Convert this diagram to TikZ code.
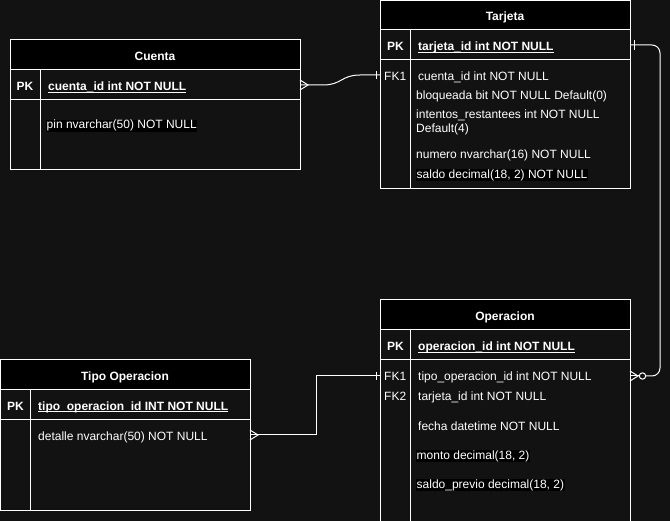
\documentclass[tikz,border=0pt]{standalone}
\usepackage{fontspec}
\setmainfont{Liberation Sans}
\usetikzlibrary{positioning}
\definecolor{bgdark}{HTML}{121212}
\newcommand{\erul}[1]{\underline{\smash{#1}}}
\tikzset{
	erline/.style={draw=white, line width=1pt},
	erhead/.style={fill=black},
	ertitle/.style={text=white, anchor=base, inner sep=0pt, yshift=-0.8pt, font=\bfseries\fontsize{12}{14}\selectfont},
	erpk/.style={text=white, anchor=base, inner sep=0pt, yshift=-0.8pt, font=\bfseries\fontsize{12}{14}\selectfont},
	erfk/.style={text=white, anchor=base west, inner sep=0pt, yshift=-0.8pt, font=\fontsize{12}{14}\selectfont},
	erkey/.style={text=white, anchor=base west, inner sep=0pt, yshift=-0.8pt, font=\bfseries\fontsize{12}{14}\selectfont},
	erfield/.style={text=white, anchor=base west, inner sep=0pt, yshift=-0.8pt, font=\fontsize{12}{14}\selectfont},
	erhl/.style={fill=black, inner sep=0.5pt},
}

\begin{document}
\begin{tikzpicture}[x=1pt,y=-1pt]
	\useasboundingbox (0,0) rectangle (670,521);
	\fill[bgdark] (0,0) rectangle (670,521);
	
	% Cuenta
	\fill[erhead] (10,40) rectangle (300,70);
	\draw[erline] (10,40) rectangle (300,170);
	\draw[erline] (10,70) -- (300,70);
	\draw[erline] (10,100) -- (300,100);
	\draw[erline] (40,70) -- (40,170);
	\node[ertitle] (cuentaTitle) at (155,60) {Cuenta};
	\node[erpk] (cuentaPK) at (25,90) {PK};
	\node[erkey] (cuentaId) at (48,90) {\erul{cuenta\_id int NOT NULL}};
	\node[erfield,erhl] (cuentaPin) at (46,128) {pin nvarchar(50) NOT NULL};
	
	% Tarjeta
	\fill[erhead] (380,0.5) rectangle (630,30);
	\draw[erline] (380,0.5) rectangle (630,189);
	\draw[erline] (380,30) -- (630,30);
	\draw[erline] (380,60) -- (630,60);
	\draw[erline] (410,30) -- (410,189);
	\node[ertitle] (tarjetaTitle) at (505,20) {Tarjeta};
	\node[erpk] (tarjetaPK) at (395.5,50) {PK};
	\node[erkey] (tarjetaId) at (418,50) {\erul{tarjeta\_id int NOT NULL}};
	\node[erfk] (tarjetaFK1) at (384,80) {FK1};
	\node[erfield] (tarjetaCuenta) at (418,80) {cuenta\_id int NOT NULL};
	\node[erfield] (tarjetaBloq) at (416,98.5) {bloqueada bit NOT NULL Default(0)};
	\node[erfield] (tarjetaInt) at (416,118) {intentos\_restantees int NOT NULL};
	\node[erfield] (tarjetaIntDef) at (416,132) {Default(4)};
	\node[erfield] (tarjetaNum) at (416,158) {numero nvarchar(16) NOT NULL};
	\node[erfield,erhl] (tarjetaSaldo) at (416,177.5) {saldo decimal(18, 2) NOT NULL};
	
	% Operacion
	\fill[erhead] (380,300) rectangle (630,330);
	\draw[erline] (380,300) rectangle (630,530);
	\draw[erline] (380,330) -- (630,330);
	\draw[erline] (380,360) -- (630,360);
	\draw[erline] (410,330) -- (410,530);
	\node[ertitle] (operacionTitle) at (505,320) {Operacion};
	\node[erpk] (operacionPK) at (395.5,350) {PK};
	\node[erkey] (operacionId) at (418,350) {\erul{operacion\_id int NOT NULL}};
	\node[erfk] (operacionFK1) at (384,380) {FK1};
	\node[erfield] (operacionTipo) at (418,380) {tipo\_operacion\_id int NOT NULL};
	\node[erfk] (operacionFK2) at (384,400) {FK2};
	\node[erfield] (operacionTarjeta) at (418,400) {tarjeta\_id int NOT NULL};
	\node[erfield] (operacionFecha) at (418,430) {fecha datetime NOT NULL};
	\node[erfield,erhl] (operacionMonto) at (416,458.5) {monto decimal(18, 2)};
	\node[erfield,erhl] (operacionSaldo) at (416,487.5) {saldo\_previo decimal(18, 2)};
	
	% Tipo Operacion
	\fill[erhead] (0.5,360) rectangle (250,390);
	\draw[erline] (0.5,360) rectangle (250,510);
	\draw[erline] (0.5,390) -- (250,390);
	\draw[erline] (0.5,420) -- (250,420);
	\draw[erline] (30,390) -- (30,510);
	\node[ertitle] (tipoTitle) at (125,379.5) {Tipo Operacion};
	\node[erpk] (tipoPK) at (15.5,409.5) {PK};
	\node[erkey] (tipoId) at (38,409.5) {\erul{tipo\_operacion\_id INT NOT NULL}};
	\node[erfield] (tipoDetalle) at (38,439.5) {detalle nvarchar(50) NOT NULL};
	
	% connector ends
	\coordinate (cuentaEnd) at (300,85);
	\coordinate (tarjetaFKEnd) at (380,75);
	\coordinate (tarjetaPKEnd) at (630,45);
	\coordinate (operacionFKEnd) at (380,376);
	\coordinate (operacionTarEnd) at (630,376);
	\coordinate (tipoEnd) at (250,435);
	
	% Cuenta - Tarjeta
	\draw[erline] (cuentaEnd) -- (323,85) .. controls (342,85) and (341,75) .. (360,75) -- (tarjetaFKEnd);
	\draw[erline] ([shift={(0,-5)}]cuentaEnd) -- ([shift={(8,0)}]cuentaEnd) -- ([shift={(0,5)}]cuentaEnd);
	\draw[erline] ([shift={(-4,-4)}]tarjetaFKEnd) -- ([shift={(-4,4)}]tarjetaFKEnd);
	
	% Tarjeta - Operacion
	\draw[erline,rounded corners=8pt] (tarjetaPKEnd) -- (660,45) -- (660,376) -- ([shift={(15.5,0)}]operacionTarEnd);
	\draw[erline] ([shift={(4,-5)}]tarjetaPKEnd) -- ([shift={(4,5)}]tarjetaPKEnd);
	\draw[erline] ([shift={(12.5,0)}]operacionTarEnd) circle (3.2);
	\draw[erline] ([shift={(0,-5)}]operacionTarEnd) -- ([shift={(8,0)}]operacionTarEnd) -- ([shift={(0,5)}]operacionTarEnd);
	\draw[erline] (operacionTarEnd) -- ([shift={(9.3,0)}]operacionTarEnd);
	
	% Tipo Operacion - Operacion
	\draw[erline] (tipoEnd) -- (316,435) -- (316,376) -- (operacionFKEnd);
	\draw[erline] ([shift={(0,-5)}]tipoEnd) -- ([shift={(8,0)}]tipoEnd) -- ([shift={(0,5)}]tipoEnd);
	\draw[erline] ([shift={(-4,-4)}]operacionFKEnd) -- ([shift={(-4,4)}]operacionFKEnd);
	
\end{tikzpicture}
\end{document}
